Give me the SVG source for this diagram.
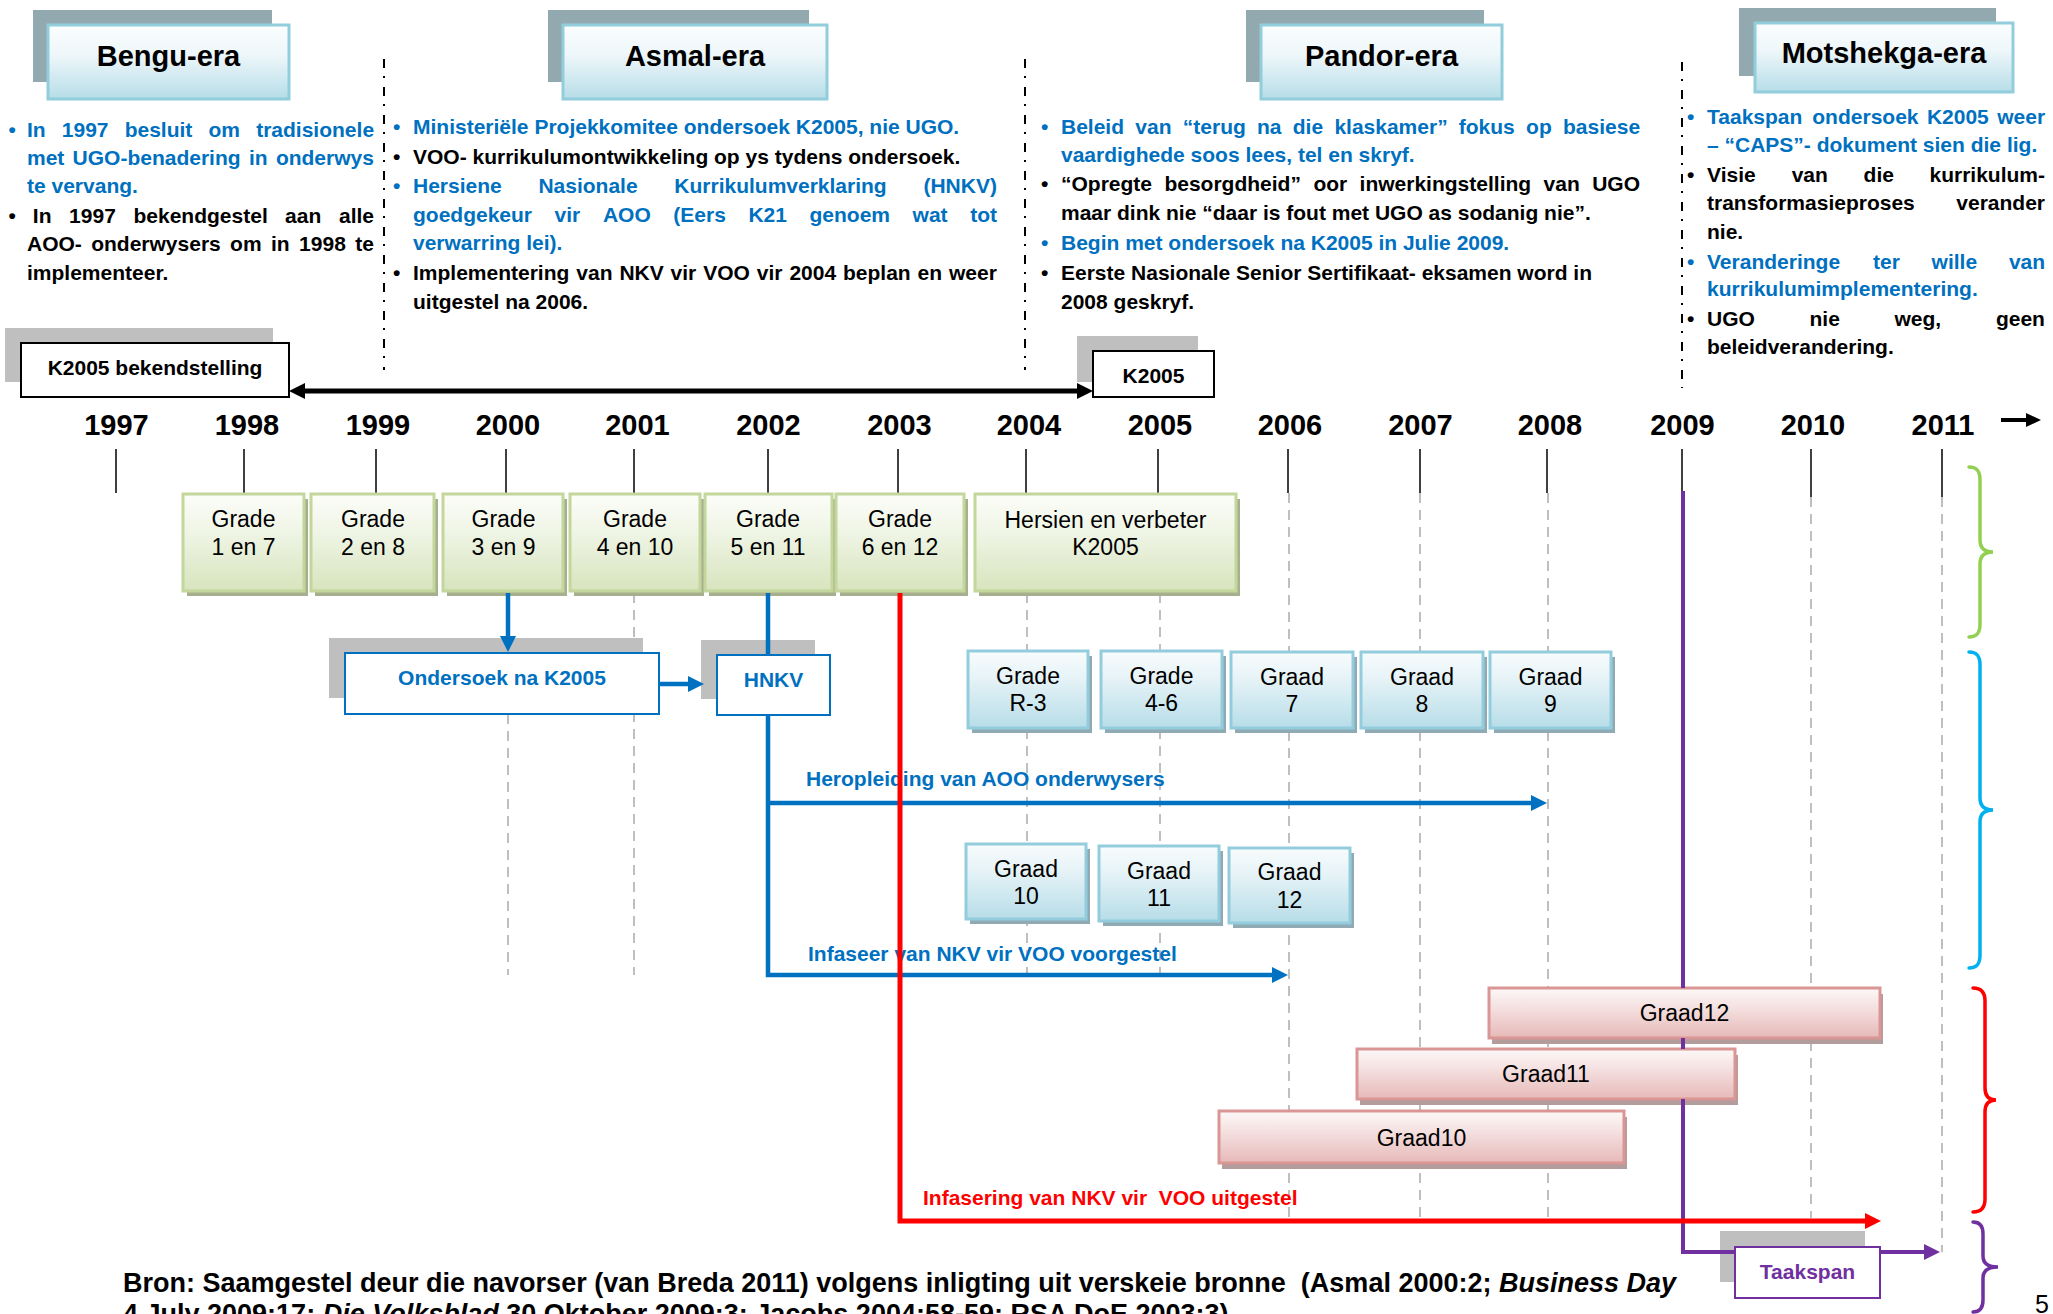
<svg xmlns="http://www.w3.org/2000/svg" width="2053" height="1314" viewBox="0 0 2053 1314">
<defs>
<style>
text{font-family:"Liberation Sans",Arial,Helvetica,sans-serif}
.b{font-weight:bold;font-size:21px}
.bl{fill:#0070c0}
.k{fill:#000}
.rd{fill:#ff0000}
.pu{fill:#7030a0}
.era{font-weight:bold;font-size:29px;text-anchor:middle;fill:#000}
.yr{font-weight:bold;font-size:29px;text-anchor:middle;fill:#000}
.bx{font-size:23px;text-anchor:middle;fill:#000}
.mid{text-anchor:middle}
.pre{white-space:pre}
.cap{font-weight:bold;font-size:27px;fill:#000;white-space:pre}
.eraBox{fill:url(#gEra);stroke:#92cddc;stroke-width:3}
.eraSh{fill:#92a9b0}
.gBox{fill:url(#gGreen);stroke:#c3d69b;stroke-width:3}
.gSh{fill:#a6b08f}
.cBox{fill:url(#gCyan);stroke:#93cddd;stroke-width:3}
.cSh{fill:#8faab2}
.pBox{fill:url(#gPink);stroke:#d99694;stroke-width:3}
.pSh{fill:#b39c9c}
.grSh{fill:#bfbfbf}
.wBox{fill:#fff;stroke-width:2}
.div{stroke:#000;stroke-width:2;stroke-dasharray:9 8 2 9;fill:none}
.guide{stroke:#bfbfbf;stroke-width:2;stroke-dasharray:10 7;fill:none}
.tick{stroke:#000;stroke-width:1.5}
.cb{stroke:#0070c0;stroke-width:4.5;fill:none}
.cr{stroke:#ff0000;stroke-width:5;fill:none}
.cp{stroke:#7030a0;stroke-width:4;fill:none}
.ck{stroke:#000;stroke-width:5;fill:none}
.brace{fill:none;stroke-width:3.5;stroke-linecap:round}
</style>
<linearGradient id="gEra" x1="0" y1="0" x2="0" y2="1">
<stop offset="0" stop-color="#fbfdfe"/><stop offset="0.4" stop-color="#eef7fa"/><stop offset="1" stop-color="#b6dde8"/>
</linearGradient>
<linearGradient id="gGreen" x1="0" y1="0" x2="0" y2="1">
<stop offset="0" stop-color="#fcfdf9"/><stop offset="0.35" stop-color="#f1f6e8"/><stop offset="1" stop-color="#d7e4bd"/>
</linearGradient>
<linearGradient id="gCyan" x1="0" y1="0" x2="0" y2="1">
<stop offset="0" stop-color="#f8fcfd"/><stop offset="0.35" stop-color="#e6f3f7"/><stop offset="1" stop-color="#b7dde8"/>
</linearGradient>
<linearGradient id="gPink" x1="0" y1="0" x2="0" y2="1">
<stop offset="0" stop-color="#fdf8f8"/><stop offset="0.35" stop-color="#f6e3e3"/><stop offset="1" stop-color="#e6b9b8"/>
</linearGradient>
<marker id="aBlue" viewBox="0 0 16 16" refX="6" refY="8" markerWidth="16" markerHeight="16" markerUnits="userSpaceOnUse" orient="auto"><path d="M0,0L16,8L0,16z" fill="#0070c0"/></marker>
<marker id="aRed" viewBox="0 0 16 16" refX="6" refY="8" markerWidth="16" markerHeight="16" markerUnits="userSpaceOnUse" orient="auto"><path d="M0,0L16,8L0,16z" fill="#ff0000"/></marker>
<marker id="aPurple" viewBox="0 0 16 16" refX="6" refY="8" markerWidth="16" markerHeight="16" markerUnits="userSpaceOnUse" orient="auto"><path d="M0,0L16,8L0,16z" fill="#7030a0"/></marker>
<marker id="aBlack" viewBox="0 0 16 16" refX="6" refY="8" markerWidth="16" markerHeight="16" markerUnits="userSpaceOnUse" orient="auto-start-reverse"><path d="M0,0L16,8L0,16z" fill="#000"/></marker>
</defs>

<rect width="2053" height="1314" fill="#fff"/>

<!-- era dividers and year guide lines -->
<g id="guides">
<line class="div" x1="384" y1="59" x2="384" y2="370"/>
<line class="div" x1="1025" y1="59" x2="1025" y2="370"/>
<line class="div" x1="1682" y1="62" x2="1682" y2="388"/>
<line class="guide" x1="508" y1="714" x2="508" y2="975"/>
<line class="guide" x1="634" y1="593" x2="634" y2="975"/>
<line class="guide" x1="1027" y1="593" x2="1027" y2="975"/>
<line class="guide" x1="1160" y1="593" x2="1160" y2="975"/>
<line class="guide" x1="1289" y1="493" x2="1289" y2="1218"/>
<line class="guide" x1="1420" y1="493" x2="1420" y2="1218"/>
<line class="guide" x1="1548" y1="493" x2="1548" y2="1218"/>
<line class="guide" x1="1811" y1="497" x2="1811" y2="1218"/>
<line class="guide" x1="1942" y1="497" x2="1942" y2="1252"/>
</g>

<!-- time axis -->
<g id="timeline">
<text class="yr" x="116.5" y="435">1997</text>
<text class="yr" x="247" y="435">1998</text>
<text class="yr" x="378" y="435">1999</text>
<text class="yr" x="508" y="435">2000</text>
<text class="yr" x="637.5" y="435">2001</text>
<text class="yr" x="768.5" y="435">2002</text>
<text class="yr" x="899.5" y="435">2003</text>
<text class="yr" x="1029" y="435">2004</text>
<text class="yr" x="1160" y="435">2005</text>
<text class="yr" x="1290" y="435">2006</text>
<text class="yr" x="1420.5" y="435">2007</text>
<text class="yr" x="1550" y="435">2008</text>
<text class="yr" x="1682.5" y="435">2009</text>
<text class="yr" x="1813" y="435">2010</text>
<text class="yr" x="1943" y="435">2011</text>
<line class="tick" x1="116" y1="449" x2="116" y2="493"/>
<line class="tick" x1="244" y1="449" x2="244" y2="493"/>
<line class="tick" x1="376" y1="449" x2="376" y2="493"/>
<line class="tick" x1="506" y1="449" x2="506" y2="493"/>
<line class="tick" x1="634" y1="449" x2="634" y2="493"/>
<line class="tick" x1="768" y1="449" x2="768" y2="493"/>
<line class="tick" x1="898" y1="449" x2="898" y2="493"/>
<line class="tick" x1="1026" y1="449" x2="1026" y2="493"/>
<line class="tick" x1="1158" y1="449" x2="1158" y2="493"/>
<line class="tick" x1="1288" y1="449" x2="1288" y2="493"/>
<line class="tick" x1="1420" y1="449" x2="1420" y2="493"/>
<line class="tick" x1="1547" y1="449" x2="1547" y2="493"/>
<line class="tick" x1="1682" y1="449" x2="1682" y2="491"/>
<line class="tick" x1="1811" y1="449" x2="1811" y2="497"/>
<line class="tick" x1="1942" y1="449" x2="1942" y2="497"/>
<path d="M2001,418L2026,418L2026,413L2041,420L2026,427L2026,422L2001,422Z" fill="#000"/>
</g>

<!-- Bengu era -->
<g id="era-bengu">
<rect class="eraSh" x="33" y="10" width="239" height="72"/>
<rect class="eraBox" x="48" y="25" width="241" height="74"/>
<text class="era" x="168.5" y="66">Bengu-era</text>
<text class="b bl" x="8.5" y="137">•</text>
<text class="b bl" y="137"><tspan x="27">In</tspan><tspan x="61.8">1997</tspan><tspan x="124.7">besluit</tspan><tspan x="208.5">om</tspan><tspan x="256.2">tradisionele</tspan></text>
<text class="b bl" y="165"><tspan x="27">met</tspan><tspan x="72.6">UGO-benadering</tspan><tspan x="248.9">in</tspan><tspan x="275.9">onderwys</tspan></text>
<text class="b bl" x="27" y="193">te vervang.</text>
<text class="b k" x="8.5" y="223">•</text>
<text class="b k" y="223"><tspan x="32.8">In</tspan><tspan x="69.1">1997</tspan><tspan x="133.5">bekendgestel</tspan><tspan x="285.1">aan</tspan><tspan x="339">alle</tspan></text>
<text class="b k" y="251"><tspan x="27">AOO-</tspan><tspan x="91.2">onderwysers</tspan><tspan x="230.1">om</tspan><tspan x="271">in</tspan><tspan x="299.1">1998</tspan><tspan x="355.2">te</tspan></text>
<text class="b k" x="27" y="280">implementeer.</text>
</g>

<!-- Asmal era -->
<g id="era-asmal">
<rect class="eraSh" x="548" y="10" width="261" height="72"/>
<rect class="eraBox" x="563" y="25" width="264" height="74"/>
<text class="era" x="695" y="66">Asmal-era</text>
<text class="b bl" x="393" y="134">•</text>
<text class="b bl" x="413" y="134">Ministeriële Projekkomitee ondersoek K2005, nie UGO.</text>
<text class="b k" x="393" y="164">•</text>
<text class="b k" x="413" y="164">VOO- kurrikulumontwikkeling op ys tydens ondersoek.</text>
<text class="b bl" x="393" y="193">•</text>
<text class="b bl" y="193"><tspan x="413">Hersiene</tspan><tspan x="538.4">Nasionale</tspan><tspan x="674.3">Kurrikulumverklaring</tspan><tspan x="923.4">(HNKV)</tspan></text>
<text class="b bl" y="222"><tspan x="413">goedgekeur</tspan><tspan x="554.6">vir</tspan><tspan x="602.9">AOO</tspan><tspan x="673.3">(Eers</tspan><tspan x="748.4">K21</tspan><tspan x="809.5">genoem</tspan><tspan x="912.6">wat</tspan><tspan x="970.2">tot</tspan></text>
<text class="b bl" x="413" y="250">verwarring lei).</text>
<text class="b k" x="393" y="280">•</text>
<text class="b k" y="280"><tspan x="413">Implementering</tspan><tspan x="576.3">van</tspan><tspan x="619.4">NKV</tspan><tspan x="670.6">vir</tspan><tspan x="703.2">VOO</tspan><tspan x="756.8">vir</tspan><tspan x="789.4">2004</tspan><tspan x="843">beplan</tspan><tspan x="917.6">en</tspan><tspan x="949">weer</tspan></text>
<text class="b k" x="413" y="309">uitgestel na 2006.</text>
</g>

<!-- Pandor era -->
<g id="era-pandor">
<rect class="eraSh" x="1246" y="10" width="238" height="72"/>
<rect class="eraBox" x="1261" y="25" width="241" height="74"/>
<text class="era" x="1381.5" y="66">Pandor-era</text>
<text class="b bl" x="1041" y="134">•</text>
<text class="b bl" y="134"><tspan x="1061">Beleid</tspan><tspan x="1135.3">van</tspan><tspan x="1182.8">“terug</tspan><tspan x="1257">na</tspan><tspan x="1292.8">die</tspan><tspan x="1334.4">klaskamer”</tspan><tspan x="1458.8">fokus</tspan><tspan x="1526.1">op</tspan><tspan x="1563">basiese</tspan></text>
<text class="b bl" x="1061" y="162">vaardighede soos lees, tel en skryf.</text>
<text class="b k" x="1041" y="191">•</text>
<text class="b k" y="191"><tspan x="1061">“Opregte</tspan><tspan x="1164.4">besorgdheid”</tspan><tspan x="1313.4">oor</tspan><tspan x="1359.6">inwerkingstelling</tspan><tspan x="1543.6">van</tspan><tspan x="1592.2">UGO</tspan></text>
<text class="b k" x="1061" y="220">maar dink nie “daar is fout met UGO as sodanig nie”.</text>
<text class="b bl" x="1041" y="250">•</text>
<text class="b bl" x="1061" y="250">Begin met ondersoek na K2005 in Julie 2009.</text>
<text class="b k" x="1041" y="280">•</text>
<text class="b k" x="1061" y="280">Eerste Nasionale Senior Sertifikaat- eksamen word in</text>
<text class="b k" x="1061" y="309">2008 geskryf.</text>
</g>

<!-- Motshekga era -->
<g id="era-motshekga">
<rect class="eraSh" x="1739" y="8" width="257" height="68"/>
<rect class="eraBox" x="1755" y="23" width="258" height="69"/>
<text class="era" x="1884" y="63">Motshekga-era</text>
<text class="b bl" x="1687" y="124">•</text>
<text class="b bl" y="124"><tspan x="1707">Taakspan</tspan><tspan x="1812.3">ondersoek</tspan><tspan x="1926.9">K2005</tspan><tspan x="1997.2">weer</tspan></text>
<text class="b bl" x="1707" y="152">– “CAPS”- dokument sien die lig.</text>
<text class="b k" x="1687" y="182">•</text>
<text class="b k" y="182"><tspan x="1707">Visie</tspan><tspan x="1791.7">van</tspan><tspan x="1863.6">die</tspan><tspan x="1929.5">kurrikulum-</tspan></text>
<text class="b k" y="210"><tspan x="1707">transformasieproses</tspan><tspan x="1956.3">verander</tspan></text>
<text class="b k" x="1707" y="239">nie.</text>
<text class="b bl" x="1687" y="269">•</text>
<text class="b bl" y="269"><tspan x="1707">Veranderinge</tspan><tspan x="1873">ter</tspan><tspan x="1931.6">wille</tspan><tspan x="2008.9">van</tspan></text>
<text class="b bl" x="1707" y="296">kurrikulumimplementering.</text>
<text class="b k" x="1687" y="326">•</text>
<text class="b k" y="326"><tspan x="1707">UGO</tspan><tspan x="1809.5">nie</tspan><tspan x="1894.5">weg,</tspan><tspan x="1995.9">geen</tspan></text>
<text class="b k" x="1707" y="354">beleidverandering.</text>
</g>

<!-- K2005 milestones -->
<g id="node-k2005-bekendstelling">
<rect class="grSh" x="5" y="328" width="268" height="54"/>
<rect class="wBox" x="21" y="343" width="268" height="54" stroke="#000"/>
<text class="b k mid" x="155" y="374.5">K2005 bekendstelling</text>
</g>
<g id="node-k2005">
<rect class="grSh" x="1077" y="336" width="121" height="46"/>
<rect class="wBox" x="1093" y="351" width="121" height="46" stroke="#000"/>
<text class="b k mid" x="1153.5" y="383">K2005</text>
</g>

<!-- grade roll-out, first row -->
<g id="node-grade-1-7">
<rect class="gSh" x="187" y="499" width="121" height="97"/>
<rect class="gBox" x="183" y="494" width="121" height="97"/>
<text class="bx" x="243.5" y="527">Grade</text><text class="bx" x="243.5" y="555">1 en 7</text>
</g>
<g id="node-grade-2-8">
<rect class="gSh" x="315" y="499" width="123" height="97"/>
<rect class="gBox" x="311" y="494" width="123" height="97"/>
<text class="bx" x="373" y="527">Grade</text><text class="bx" x="373" y="555">2 en 8</text>
</g>
<g id="node-grade-3-9">
<rect class="gSh" x="447" y="499" width="120" height="97"/>
<rect class="gBox" x="443" y="494" width="120" height="97"/>
<text class="bx" x="503.5" y="527">Grade</text><text class="bx" x="503.5" y="555">3 en 9</text>
</g>
<g id="node-grade-4-10">
<rect class="gSh" x="574" y="499" width="130" height="97"/>
<rect class="gBox" x="570" y="494" width="130" height="97"/>
<text class="bx" x="635" y="527">Grade</text><text class="bx" x="635" y="555">4 en 10</text>
</g>
<g id="node-grade-5-11">
<rect class="gSh" x="709" y="499" width="127" height="97"/>
<rect class="gBox" x="705" y="494" width="127" height="97"/>
<text class="bx" x="768" y="527">Grade</text><text class="bx" x="768" y="555">5 en 11</text>
</g>
<g id="node-grade-6-12">
<rect class="gSh" x="840" y="499" width="128" height="97"/>
<rect class="gBox" x="836" y="494" width="128" height="97"/>
<text class="bx" x="900" y="527">Grade</text><text class="bx" x="900" y="555">6 en 12</text>
</g>
<g id="node-hersien">
<rect class="gSh" x="979" y="499" width="261" height="97"/>
<rect class="gBox" x="975" y="494" width="261" height="97"/>
<text class="bx" x="1105.5" y="528">Hersien en verbeter</text><text class="bx" x="1105.5" y="555">K2005</text>
</g>

<!-- investigation boxes -->
<g id="node-ondersoek">
<rect class="grSh" x="329" y="638" width="314" height="60"/>
<rect class="wBox" x="345" y="653" width="314" height="61" stroke="#0070c0"/>
<text class="b bl mid" x="502" y="685">Ondersoek na K2005</text>
</g>
<g id="node-hnkv">
<rect class="grSh" x="701" y="640" width="114" height="59"/>
<rect class="wBox" x="717" y="655" width="113" height="60" stroke="#0070c0"/>
<text class="b bl mid" x="773.5" y="687">HNKV</text>
</g>

<!-- second row -->
<g id="node-grade-r-3">
<rect class="cSh" x="972" y="656" width="120" height="77"/>
<rect class="cBox" x="968" y="651" width="120" height="77"/>
<text class="bx" x="1028" y="684">Grade</text><text class="bx" x="1028" y="711">R-3</text>
</g>
<g id="node-grade-4-6">
<rect class="cSh" x="1105" y="656" width="121" height="77"/>
<rect class="cBox" x="1101" y="651" width="121" height="77"/>
<text class="bx" x="1161.5" y="684">Grade</text><text class="bx" x="1161.5" y="711">4-6</text>
</g>
<g id="node-graad-7">
<rect class="cSh" x="1235" y="657" width="122" height="76"/>
<rect class="cBox" x="1231" y="652" width="122" height="76"/>
<text class="bx" x="1292" y="685">Graad</text><text class="bx" x="1292" y="712">7</text>
</g>
<g id="node-graad-8">
<rect class="cSh" x="1365" y="657" width="122" height="76"/>
<rect class="cBox" x="1361" y="652" width="122" height="76"/>
<text class="bx" x="1422" y="685">Graad</text><text class="bx" x="1422" y="712">8</text>
</g>
<g id="node-graad-9">
<rect class="cSh" x="1494" y="657" width="121" height="76"/>
<rect class="cBox" x="1490" y="652" width="121" height="76"/>
<text class="bx" x="1550.5" y="685">Graad</text><text class="bx" x="1550.5" y="712">9</text>
</g>

<!-- third row -->
<g id="node-graad-10">
<rect class="cSh" x="970" y="849" width="120" height="75"/>
<rect class="cBox" x="966" y="844" width="120" height="75"/>
<text class="bx" x="1026" y="877">Graad</text><text class="bx" x="1026" y="904">10</text>
</g>
<g id="node-graad-11">
<rect class="cSh" x="1103" y="851" width="120" height="75"/>
<rect class="cBox" x="1099" y="846" width="120" height="75"/>
<text class="bx" x="1159" y="879">Graad</text><text class="bx" x="1159" y="906">11</text>
</g>
<g id="node-graad-12">
<rect class="cSh" x="1233" y="853" width="121" height="75"/>
<rect class="cBox" x="1229" y="848" width="121" height="75"/>
<text class="bx" x="1289.5" y="880">Graad</text><text class="bx" x="1289.5" y="908">12</text>
</g>

<!-- senior phase bars -->
<g id="node-bar-graad12">
<rect class="pSh" x="1492" y="994" width="391" height="50"/>
<rect class="pBox" x="1489" y="988" width="391" height="50"/>
<text class="bx" x="1684.5" y="1021">Graad12</text>
</g>
<g id="node-bar-graad11">
<rect class="pSh" x="1360" y="1055" width="378" height="50"/>
<rect class="pBox" x="1357" y="1049" width="378" height="50"/>
<text class="bx" x="1546" y="1082">Graad11</text>
</g>
<g id="node-bar-graad10">
<rect class="pSh" x="1222" y="1117" width="405" height="52"/>
<rect class="pBox" x="1219" y="1111" width="405" height="52"/>
<text class="bx" x="1421.5" y="1146">Graad10</text>
</g>

<g id="node-taakspan">
<rect class="grSh" x="1720" y="1231" width="145" height="51"/>
<rect class="wBox" x="1735" y="1247" width="145" height="51" stroke="#7030a0" stroke-width="2.5"/>
<text class="b pu mid" x="1807.5" y="1279">Taakspan</text>
</g>

<!-- connectors -->
<g id="connectors">
<path class="ck" d="M299,391L1083,391" marker-start="url(#aBlack)" marker-end="url(#aBlack)"/>
<path class="cb" d="M508,593L508,642" marker-end="url(#aBlue)"/>
<path class="cb" d="M659,684L694,684" marker-end="url(#aBlue)"/>
<path class="cb" d="M768,593L768,655"/>
<path class="cb" d="M768,715L768,975L1278,975" marker-end="url(#aBlue)"/>
<path class="cb" d="M768,803L1537,803" marker-end="url(#aBlue)"/>
<text class="b bl" x="806" y="786">Heropleiding van AOO onderwysers</text>
<text class="b bl" x="808" y="961">Infaseer van NKV vir VOO voorgestel</text>
<path class="cp" d="M1683,491L1683,988"/>
<path class="cp" d="M1683,1038L1683,1049"/>
<path class="cp" d="M1683,1099L1683,1252L1735,1252"/>
<path class="cp" d="M1880,1252L1930,1252" marker-end="url(#aPurple)"/>
<text class="b rd pre" x="923" y="1205">Infasering van NKV vir  VOO uitgestel</text>
<path class="cr" d="M900,593L900,1221L1871,1221" marker-end="url(#aRed)"/>
</g>

<!-- phase braces -->
<g id="braces">
<path class="brace" stroke="#92d050" d="M1969,467C1977,467 1980,471 1980,480L1980,540C1980,548 1984,552 1993,552C1984,552 1980,556 1980,564L1980,624C1980,633 1977,637 1969,637"/>
<path class="brace" stroke="#00b0f0" d="M1969,652C1977,652 1980,656 1980,665L1980,798C1980,806 1984,810 1993,810C1984,810 1980,814 1980,822L1980,955C1980,964 1977,968 1969,968"/>
<path class="brace" stroke="#ff0000" d="M1973,988C1981,988 1985,992 1985,1001L1985,1088C1985,1096 1989,1100 1996,1100C1989,1100 1985,1104 1985,1112L1985,1199C1985,1208 1981,1212 1973,1212"/>
<path class="brace" stroke="#7030a0" d="M1973,1222C1980,1222 1983,1226 1983,1234L1983,1256C1983,1263 1988,1267 1998,1267C1988,1267 1983,1271 1983,1278L1983,1300C1983,1308 1980,1312 1973,1312"/>
</g>

<!-- source note and page number -->
<text class="cap" x="123" y="1292">Bron: Saamgestel deur die navorser (van Breda 2011) volgens inligting uit verskeie bronne  (Asmal 2000:2; <tspan font-style="italic">Business Day</tspan></text>
<text class="cap" x="123" y="1323">4 July 2009:17; <tspan font-style="italic">Die Volksblad</tspan> 30 Oktober 2009:3; Jacobs 2004:58-59; RSA DoE 2003:3)</text>
<text x="2035" y="1313" font-family="Liberation Serif, Times New Roman, serif" font-size="25" fill="#000">5</text>
</svg>
